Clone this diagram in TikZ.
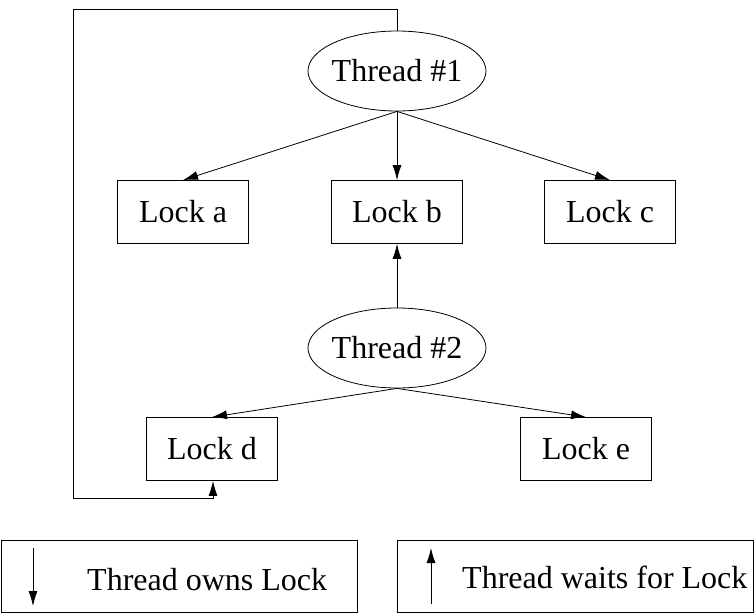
\documentclass[tikz,border=0pt]{standalone}
\usepackage{fontspec}
\setmainfont{Liberation Serif}
\usetikzlibrary{shapes.geometric,arrows.meta}
\begin{document}
\begin{tikzpicture}[x=1pt,y=-1pt,
  every node/.style={font=\fontsize{32}{36}\selectfont, inner sep=0pt},
  lockbox/.style={draw, line width=0.8pt, minimum width=131pt, minimum height=63pt},
  thread/.style={draw, ellipse, line width=0.8pt, minimum width=178pt, minimum height=80pt},
  legbox/.style={draw, line width=0.8pt, minimum width=356pt, minimum height=72pt},
  arr/.style={line width=0.8pt, -{Latex[length=15pt,width=9pt]}},
  plain/.style={line width=0.8pt}]
\useasboundingbox (0,0) rectangle (756,616);
\node[thread] (t1) at (397,71) {\makebox[110pt]{Thread \#1}};
\node[lockbox] (la) at (183,212) {Lock a};
\node[lockbox] (lb) at (397,212) {Lock b};
\node[lockbox] (lc) at (610,212) {Lock c};
\node[thread] (t2) at (397,348) {\makebox[110pt]{Thread \#2}};
\node[lockbox] (ld) at (212,449) {Lock d};
\node[lockbox] (le) at (586,449) {Lock e};
\draw[arr] (t1.south) -- (la.north);
\draw[arr] (t1.south) -- (lb.north);
\draw[arr] (t1.south) -- (lc.north);
\draw[arr] (t2.north) -- (lb.south);
\draw[arr] (t2.south) -- (ld.north);
\draw[arr] (t2.south) -- (le.north);
\coordinate (c1) at (397,9);
\coordinate (c2) at (73,9);
\coordinate (c3) at (73,498);
\coordinate (c4) at (213,498);
\draw[arr] (t1.north) -- (c1) -- (c2) -- (c3) -- (c4) -- (ld.south -| c4);
% legend
\node[legbox] (g1) at (179,576) {};
\node[legbox] (g2) at (575,576) {};
\coordinate (a1s) at (33,548);
\coordinate (a1e) at (33,606);
\coordinate (a2s) at (431,604);
\coordinate (a2e) at (431,548);
\draw[arr] (a1s) -- (a1e);
\draw[arr] (a2s) -- (a2e);
\node[anchor=base west] (l1) at (87,590) {Thread owns Lock};
\node[anchor=base west] (l2) at (462,588) {Thread waits for Lock};
\end{tikzpicture}
\end{document}
